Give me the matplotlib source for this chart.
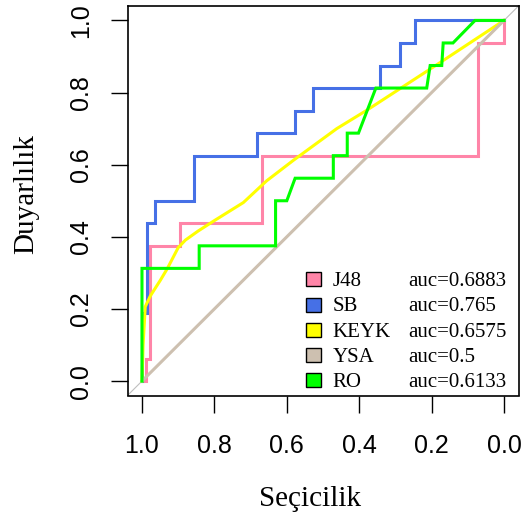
import matplotlib
matplotlib.use("Agg")
import matplotlib.pyplot as plt
from matplotlib.patches import Rectangle

# ROC curves: specificity (x, reversed) vs sensitivity (y)
j48_spec = [1.0, 0.99, 0.99, 0.977, 0.977, 0.895, 0.895, 0.668, 0.668, 0.073, 0.073, 0.0, 0.0]
j48_sens = [0.0, 0.0, 0.0625, 0.0625, 0.375, 0.375, 0.4375, 0.4375, 0.625, 0.625, 0.9375, 0.9375, 1.0]

sb_spec = [1.0, 1.0, 0.987, 0.987, 0.964, 0.964, 0.856, 0.856, 0.683, 0.683, 0.577, 0.577,
           0.528, 0.528, 0.343, 0.343, 0.287, 0.287, 0.246, 0.246, 0.0]
sb_sens = [0.0, 0.1875, 0.1875, 0.4375, 0.4375, 0.5, 0.5, 0.625, 0.625, 0.6875, 0.6875, 0.75,
           0.75, 0.8125, 0.8125, 0.875, 0.875, 0.9375, 0.9375, 1.0, 1.0]

keyk_spec = [1.0, 0.997, 0.991, 0.977, 0.949, 0.93, 0.90, 0.88, 0.845, 0.80, 0.72, 0.656,
             0.582, 0.462, 0.379, 0.195, 0.0]
keyk_sens = [0.0, 0.1, 0.206, 0.236, 0.28, 0.312, 0.37, 0.391, 0.416, 0.445, 0.495, 0.555,
             0.612, 0.70, 0.751, 0.871, 1.0]

ysa_spec = [1.0, 0.0]
ysa_sens = [0.0, 1.0]

ro_spec = [1.0, 1.0, 0.842, 0.842, 0.631, 0.631, 0.600, 0.577, 0.4715, 0.4715, 0.433, 0.433,
           0.402, 0.354, 0.2135, 0.204, 0.172, 0.168, 0.141, 0.080, 0.0]
ro_sens = [0.0, 0.3125, 0.3125, 0.375, 0.375, 0.5, 0.5, 0.5625, 0.5625, 0.625, 0.625, 0.6875,
           0.6875, 0.8125, 0.8125, 0.875, 0.875, 0.9375, 0.9375, 1.0, 1.0]

names = ["J48", "SB", "KEYK", "YSA", "RO"]
aucs = ["0.6883", "0.765", "0.6575", "0.5", "0.6133"]
colors = ["#FF85A8", "#4670E6", "#FFFF00", "#CDC0B0", "#00FF00"]
ticks = [0.0, 0.2, 0.4, 0.6, 0.8, 1.0]

serif = "Liberation Serif"
sans = "Liberation Sans"

fig = plt.figure(figsize=(5.22, 5.20), dpi=100)
ax = fig.add_axes([127.5 / 522, 1 - 395.5 / 520, 391 / 522, 389.5 / 520])

ax.axline((1, 0), (0, 1), color="#BEBEBE", lw=0.8, zorder=1)

curves = [(j48_spec, j48_sens), (sb_spec, sb_sens), (keyk_spec, keyk_sens),
          (ysa_spec, ysa_sens), (ro_spec, ro_sens)]
for (xs, ys), c in zip(curves, colors):
    ax.plot(xs, ys, color=c, lw=2.2, solid_joinstyle="miter", zorder=2)

ax.set_xlim(1.04, -0.04)
ax.set_ylim(-0.04, 1.04)

ax.set_xticks(ticks)
ax.set_xticklabels([f"{t:.1f}" for t in ticks], fontsize=18, family=sans)
ax.set_yticks(ticks)
ax.set_yticklabels([f"{t:.1f}" for t in ticks], fontsize=18, family=sans,
                   rotation=90, va="center")
ax.tick_params(axis="both", direction="out", length=12, width=1, color="black")
ax.tick_params(axis="x", pad=16)
ax.tick_params(axis="y", pad=13)
for s in ax.spines.values():
    s.set_linewidth(1.2)

fig.text(310 / 522, 1 - 499 / 520, "Seçicilik", family=serif, fontsize=21,
         ha="center", va="center")
fig.text(26 / 522, 1 - 194 / 520, "Duyarlılık", family=serif, fontsize=21,
         ha="center", va="center", rotation=90)

# legend rows drawn by hand: colour box, name, auc
for i, (n, a, c) in enumerate(zip(names, aucs, colors)):
    cy = (395.5 - (279.2 + 25.3 * i)) / 389.5
    ax.add_patch(Rectangle(((306 - 127.5) / 391, cy - 7 / 389.5), 14.5 / 391, 14 / 389.5,
                           transform=ax.transAxes, fc=c, ec="black", lw=1, zorder=3))
    base = cy - 6.9 / 389.5
    ax.text((332.7 - 127.5) / 391, base, n, transform=ax.transAxes, family=serif,
            fontsize=15, va="baseline", ha="left")
    ax.text((408.3 - 127.5) / 391, base, "auc=" + a, transform=ax.transAxes, family=serif,
            fontsize=15, va="baseline", ha="left")

fig.savefig("out.png", dpi=100)
